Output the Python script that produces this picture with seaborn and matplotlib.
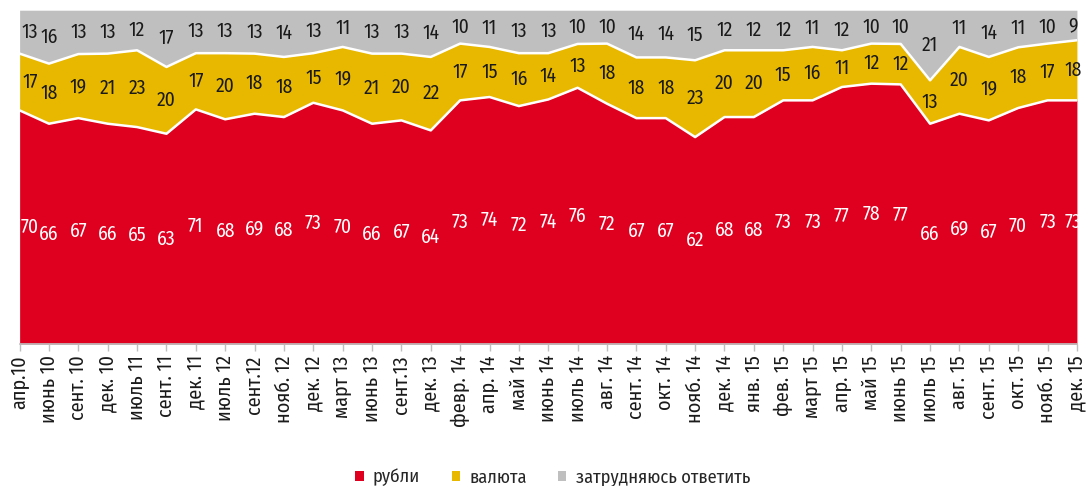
import numpy as np
import pandas as pd
import matplotlib
matplotlib.use("Agg")
import matplotlib.pyplot as plt
from matplotlib.patches import Patch
import seaborn as sns

# Survey waves (x axis)
periods = ["апр.10", "июнь 10", "сент. 10", "дек. 10", "июль 11", "сент. 11", "дек. 11",
           "июль 12", "сент.12", "нояб. 12", "дек. 12", "март 13", "июнь 13", "сент.13",
           "дек. 13", "февр. 14", "апр. 14", "май 14", "июнь 14", "июль 14", "авг. 14",
           "сент. 14", "окт. 14", "нояб. 14", "дек. 14", "янв. 15", "фев. 15", "март 15",
           "апр. 15", "май 15", "июнь 15", "июль 15", "авг. 15", "сент. 15", "окт. 15",
           "нояб. 15", "дек. 15"]

rubles = [70, 66, 67, 66, 65, 63, 71, 68, 69, 68, 73, 70, 66, 67, 64, 73, 74, 72, 74,
          76, 72, 67, 67, 62, 68, 68, 73, 73, 77, 78, 77, 66, 69, 67, 70, 73, 73]
currency = [17, 18, 19, 21, 23, 20, 17, 20, 18, 18, 15, 19, 21, 20, 22, 17, 15, 16, 14,
            13, 18, 18, 18, 23, 20, 20, 15, 16, 11, 12, 12, 13, 20, 19, 18, 17, 18]
unsure = [13, 16, 13, 13, 12, 17, 13, 13, 13, 14, 13, 11, 13, 13, 14, 10, 11, 13, 13,
          10, 10, 14, 14, 15, 12, 12, 12, 11, 12, 10, 10, 21, 11, 14, 11, 10, 9]

series_names = ["рубли", "валюта", "затрудняюсь ответить"]
colors = ["#DF0020", "#E8B800", "#BFBFBF"]
label_colors = ["white", "#1a1a1a", "#1a1a1a"]

df = pd.DataFrame({"period": periods, "рубли": rubles, "валюта": currency,
                   "затрудняюсь ответить": unsure})
df["x"] = np.arange(len(df))

# normalise to 100% so the top edge stays flat
total = df[series_names].sum(axis=1)
shares = df[series_names].div(total, axis=0) * 100
cum = shares.cumsum(axis=1)

sns.set_theme(style="white")
plt.rcParams["font.family"] = ["Fira Sans Condensed", "PT Sans Narrow", "DejaVu Sans"]

fig = plt.figure(figsize=(10.9, 4.86), dpi=100)
ax = fig.add_axes([0.018, 0.292, 0.970, 0.687])

ax.stackplot(df["x"], *[shares[s] for s in series_names], colors=colors, linewidth=0)

# white borders between bands
for s in series_names[:-1]:
    sns.lineplot(x=df["x"], y=cum[s], ax=ax, color="white", linewidth=1.8, legend=False)

# value labels in the middle of each band, end labels nudged inward
n = len(df)
lower = np.zeros(n)
for s, lc in zip(series_names, label_colors):
    mids = lower + shares[s].values / 2
    for xi, yi, v in zip(df["x"], mids, df[s]):
        dx = 0.35 if xi == 0 else (-0.12 if xi == n - 1 else 0)
        ax.text(xi + dx, yi, str(v), ha="center", va="center", fontsize=14, color=lc,
                clip_on=False)
    lower = cum[s].values

ax.set_xlim(0, n - 1)
ax.set_ylim(0, 100)
ax.set_yticks([])
ax.set_xticks(df["x"])
ax.set_xticklabels(df["period"], rotation=90, fontsize=14.5, color="#1a1a1a")
ax.tick_params(axis="x", bottom=True, length=5, width=1, color="#BFBFBF", pad=3)
ax.set_xlabel("")
ax.set_ylabel("")
for side in ["top", "right", "left"]:
    ax.spines[side].set_visible(False)
ax.spines["bottom"].set_color("#BFBFBF")

handles = [Patch(facecolor=c, edgecolor="none", label=nm) for c, nm in zip(colors, series_names)]
fig.legend(handles=handles, loc="lower center", bbox_to_anchor=(0.507, -0.035), ncol=3,
           frameon=False, fontsize=13.3, handlelength=0.45, handleheight=0.45,
           handletextpad=0.5, columnspacing=1.7)

fig.savefig("out.png", dpi=100)
